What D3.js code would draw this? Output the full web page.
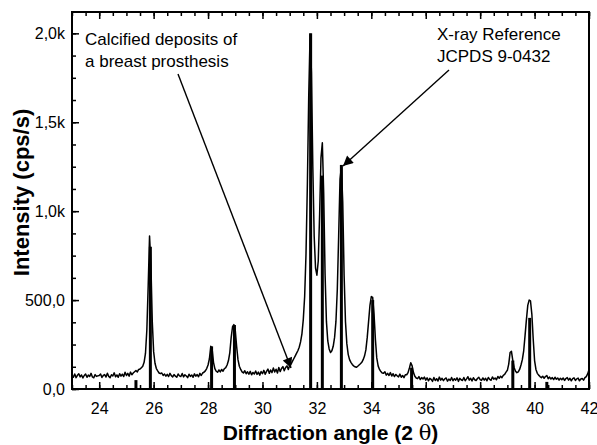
<!DOCTYPE HTML>
<html lang="en">
<head>
<meta charset="utf-8" />
<title>XRD pattern</title>
<style>
  body { margin: 0; background: #fff; }
  text { font-family: "Liberation Sans", Arial, sans-serif; fill: #000; }
</style>
</head>
<body>
<div id="chart"></div>
<script src="https://d3js.org/d3.v7.min.js"></script>
<script>
// measured pattern, one reading every 0.05 deg from 23.00 to 42.00
const angleStart = 23;
const angleStep = 0.05;
const intensity = [
  78, 66, 84, 64, 77, 86, 68, 79, 62, 76, 84, 66, 78, 70, 88, 68, 63, 81, 71, 74,
  76, 84, 65, 76, 81, 67, 89, 71, 64, 80, 73, 91, 69, 79, 66, 86, 72, 83, 70, 94,
  76, 88, 72, 95, 80, 90, 97, 104, 96, 110, 112, 120, 128, 150, 200, 330, 580, 860, 700, 380,
  210, 145, 115, 102, 90, 86, 90, 76, 84, 72, 82, 70, 88, 75, 68, 81, 72, 66, 84, 74,
  70, 87, 68, 80, 73, 64, 83, 71, 79, 66, 85, 72, 81, 69, 88, 76, 90, 94, 102, 115,
  135, 170, 240, 225, 150, 115, 100, 94, 107, 96, 110, 100, 114, 120, 135, 160, 205, 290, 350, 362,
  330, 240, 165, 128, 110, 96, 90, 103, 86, 97, 83, 99, 80, 93, 84, 101, 82, 95, 78, 98,
  86, 105, 83, 99, 112, 88, 107, 92, 118, 96, 111, 90, 121, 98, 115, 126, 103, 121, 130, 110,
  132, 140, 155, 170, 185, 200, 215, 235, 265, 310, 390, 520, 760, 1150, 1650, 1995, 1780, 1250, 860, 680,
  640, 720, 980, 1300, 1385, 1100, 650, 380, 270, 225, 205, 215, 240, 290, 380, 560, 860, 1180, 1250, 1050,
  640, 380, 255, 195, 165, 150, 138, 130, 125, 122, 128, 135, 142, 150, 165, 185, 220, 290, 380, 470,
  520, 515, 420, 280, 175, 130, 110, 98, 90, 88, 97, 78, 88, 76, 92, 73, 86, 70, 82, 74,
  68, 84, 66, 76, 64, 80, 80, 92, 118, 148, 130, 92, 72, 62, 58, 70, 53, 64, 56, 67,
  50, 63, 46, 60, 54, 43, 65, 48, 58, 45, 67, 50, 60, 47, 57, 62, 44, 56, 48, 65,
  46, 58, 50, 63, 43, 60, 52, 48, 65, 46, 57, 69, 50, 60, 45, 63, 52, 48, 59, 66,
  53, 48, 62, 50, 60, 46, 65, 54, 49, 68, 55, 62, 52, 70, 60, 72, 64, 77, 82, 95,
  105, 140, 205, 212, 160, 120, 100, 92, 96, 110, 135, 165, 215, 300, 390, 470, 500, 495, 420, 280,
  160, 110, 88, 78, 70, 64, 72, 60, 70, 76, 58, 67, 56, 64, 53, 66, 55, 62, 50, 60,
  52, 62, 48, 59, 64, 50, 60, 46, 58, 63, 48, 57, 61, 46, 56, 59, 50, 64, 70, 85,
  108
];

// reference lines (JCPDS 9-0432)
const stickAngles  = [25.35, 25.88, 28.13, 28.97, 31.77, 32.20, 32.90, 34.05, 35.48, 39.20, 39.82, 40.45];
const stickHeights = [50, 800, 240, 360, 2000, 1200, 1260, 500, 120, 160, 400, 40];

const xTicks = [24, 26, 28, 30, 32, 34, 36, 38, 40, 42];
const yTicks = [0, 500, 1000, 1500, 2000];
const yTickLabels = ['0,0', '500,0', '1,0k', '1,5k', '2,0k'];

const width = 597;
const height = 445;
const m = { left: 72, right: 589, top: 12, bottom: 389 };

const x = d3.scaleLinear().domain([23, 42]).range([m.left, m.right]);
const y = d3.scaleLinear().domain([0, 2120]).range([m.bottom, m.top]);

const svg = d3.select('#chart')
  .append('svg')
  .attr('width', width)
  .attr('height', height);

svg.append('clipPath').attr('id', 'plot')
  .append('rect')
  .attr('x', m.left).attr('y', m.top)
  .attr('width', m.right - m.left).attr('height', m.bottom - m.top);

const points = intensity.map((v, i) => [angleStart + i * angleStep, v]);

const line = d3.line()
  .x(d => x(d[0]))
  .y(d => y(d[1]));

const plot = svg.append('g').attr('clip-path', 'url(#plot)');

plot.append('path')
  .datum(points)
  .attr('d', line)
  .attr('fill', 'none')
  .attr('stroke', '#000')
  .attr('stroke-width', 1.5)
  .attr('stroke-linejoin', 'round');

plot.selectAll('.stick')
  .data(stickAngles)
  .enter()
  .append('line')
  .attr('class', 'stick')
  .attr('x1', d => x(d))
  .attr('x2', d => x(d))
  .attr('y1', y(0))
  .attr('y2', (d, i) => y(stickHeights[i]))
  .attr('stroke', '#000')
  .attr('stroke-width', 3);

// axes, ticks pointing inwards
const minorX = d3.range(23, 42.01, 0.5);
const minorY = d3.range(0, 2120, 125);

svg.append('g')
  .attr('transform', `translate(0, ${m.bottom})`)
  .call(d3.axisBottom(x).tickValues(minorX).tickSize(-4).tickFormat(''));
svg.append('g')
  .attr('transform', `translate(0, ${m.bottom})`)
  .call(d3.axisBottom(x).tickValues(xTicks).tickSize(-7).tickPadding(14).tickFormat(d3.format('d')));
svg.append('g')
  .attr('transform', `translate(0, ${m.top})`)
  .call(d3.axisTop(x).tickValues(minorX).tickSize(-4).tickFormat(''));
svg.append('g')
  .attr('transform', `translate(0, ${m.top})`)
  .call(d3.axisTop(x).tickValues(xTicks).tickSize(-7).tickFormat(''));
svg.append('g')
  .attr('transform', `translate(${m.left}, 0)`)
  .call(d3.axisLeft(y).tickValues(minorY).tickSize(-4).tickFormat(''));
svg.append('g')
  .attr('transform', `translate(${m.left}, 0)`)
  .call(d3.axisLeft(y).tickValues(yTicks).tickSize(-7).tickPadding(7)
    .tickFormat((d, i) => yTickLabels[i]));

svg.selectAll('.domain').remove();
svg.selectAll('.tick line').attr('stroke', '#000').attr('stroke-width', 1.5);
svg.selectAll('.tick text')
  .style('font-family', '"Liberation Sans", Arial, sans-serif')
  .style('font-size', '16px')
  .attr('fill', '#000');

svg.append('rect')
  .attr('x', m.left).attr('y', m.top)
  .attr('width', m.right - m.left).attr('height', m.bottom - m.top)
  .attr('fill', 'none')
  .attr('stroke', '#000')
  .attr('stroke-width', 2);

// axis titles
svg.append('text')
  .attr('transform', `translate(29, ${(m.top + m.bottom) / 2 - 8}) rotate(-90)`)
  .attr('text-anchor', 'middle')
  .style('font-size', '22px')
  .style('font-weight', 'bold')
  .text('Intensity (cps/s)');

const xTitle = svg.append('text')
  .attr('x', (m.left + m.right) / 2)
  .attr('y', 440)
  .attr('text-anchor', 'middle')
  .style('font-size', '21px')
  .style('font-weight', 'bold');
xTitle.append('tspan').text('Diffraction angle (2 ');
xTitle.append('tspan').style('font-weight', 'normal').style('font-family', '"DejaVu Serif", serif').text('θ');
xTitle.append('tspan').text(')');

// annotations
svg.append('defs').append('marker')
  .attr('id', 'head')
  .attr('viewBox', '0 0 10 10')
  .attr('refX', 10).attr('refY', 5)
  .attr('markerWidth', 14).attr('markerHeight', 10)
  .attr('markerUnits', 'userSpaceOnUse')
  .attr('orient', 'auto')
  .append('path')
  .attr('d', 'M0,0 L10,5 L0,10 Z')
  .attr('fill', '#000');

const notes = [
  { lines: ['Calcified deposits of', 'a breast prosthesis'], tx: 85, ty: 45, from: [178, 74], to: [291, 368] },
  { lines: ['X-ray Reference', 'JCPDS 9-0432'], tx: 437, ty: 40, from: [449, 70], to: [343, 166] }
];

notes.forEach(n => {
  const t = svg.append('text').style('font-size', '17px');
  n.lines.forEach((s, i) => {
    t.append('tspan').attr('x', n.tx).attr('y', n.ty + i * 22).text(s);
  });
  svg.append('line')
    .attr('x1', n.from[0]).attr('y1', n.from[1])
    .attr('x2', n.to[0]).attr('y2', n.to[1])
    .attr('stroke', '#000')
    .attr('stroke-width', 1.4)
    .attr('marker-end', 'url(#head)');
});
</script>
</body>
</html>
